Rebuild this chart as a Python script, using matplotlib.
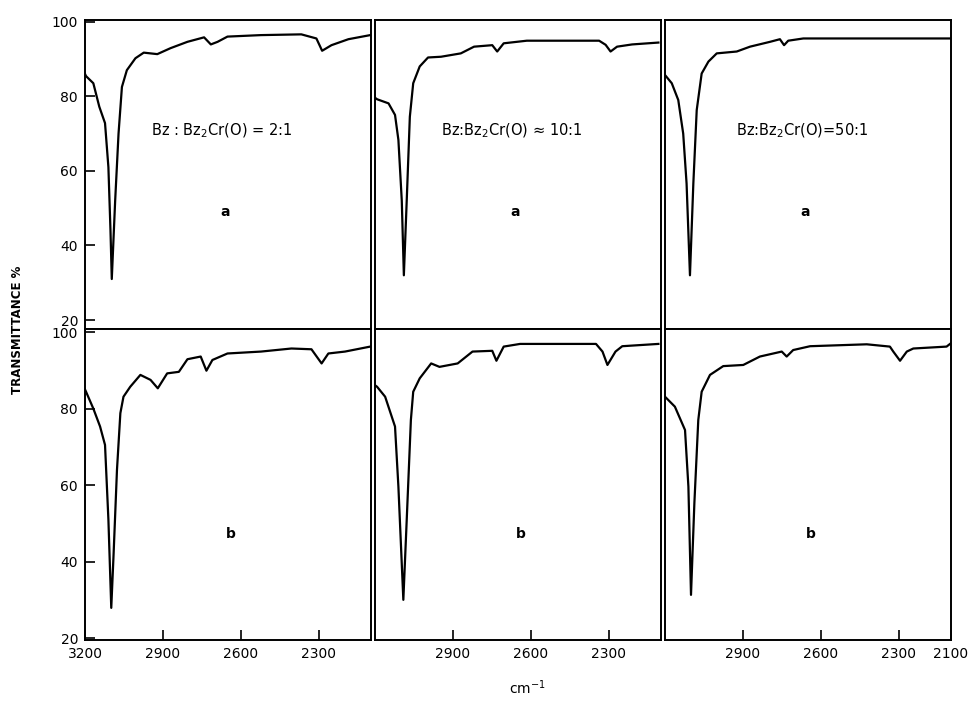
import matplotlib.pyplot as plt

# wavenumber (cm-1) and transmittance (%)
wn_a1 = [3200, 3196, 3168, 3145, 3123, 3110, 3102, 3097, 3084, 3071, 3058, 3039, 3006, 2974,
         2922, 2871, 2806, 2742, 2716, 2690, 2652, 2523, 2368, 2310, 2288, 2252, 2187, 2103]
t_a1 = [86, 85.4, 83.5, 77.2, 72.8, 61, 44, 31, 52, 70, 82.5, 87, 90.2, 91.7,
        91.3, 92.9, 94.6, 95.8, 93.9, 94.6, 96, 96.4, 96.6, 95.5, 92.2, 93.7, 95.3, 96.4]

wn_a2 = [3198, 3192, 3148, 3123, 3110, 3097, 3089, 3078, 3066, 3053, 3028, 2996, 2946,
         2870, 2819, 2749, 2730, 2705, 2616, 2338, 2313, 2294, 2269, 2211, 2110]
t_a2 = [79.5, 79.2, 78.1, 75, 68.3, 52, 32, 52, 74.5, 83.5, 88, 90.4, 90.6,
        91.5, 93.3, 93.7, 92, 94.2, 94.9, 94.9, 93.8, 92, 93.3, 93.9, 94.4]

wn_a3 = [3200, 3174, 3149, 3130, 3117, 3104, 3091, 3078, 3059, 3033, 3001, 2924, 2873,
         2796, 2758, 2742, 2726, 2668, 2100]
t_a3 = [85.7, 83.5, 79, 70, 56.6, 32, 56.6, 76.3, 86.1, 89.3, 91.5, 92, 93.3,
        94.6, 95.3, 93.7, 94.9, 95.5, 95.5]

wn_b1 = [3200, 3196, 3168, 3142, 3123, 3110, 3099, 3090, 3077, 3064, 3052, 3026, 2987, 2948,
         2920, 2884, 2839, 2806, 2755, 2733, 2710, 2652, 2523, 2406, 2329, 2290, 2264, 2200, 2103]
t_b1 = [85, 84.4, 80, 75.3, 70.5, 51, 27.9, 42, 64, 78.8, 83.1, 85.7, 88.8, 87.5,
        85.3, 89.2, 89.6, 92.9, 93.6, 89.9, 92.7, 94.4, 94.9, 95.7, 95.5, 91.8, 94.4, 94.9, 96.2]

wn_b2 = [3198, 3192, 3161, 3123, 3110, 3091, 3078, 3062, 3053, 3028, 2984, 2952, 2882,
         2825, 2749, 2733, 2705, 2642, 2350, 2325, 2306, 2275, 2249, 2110]
t_b2 = [86, 85.7, 83.1, 75.3, 59.6, 30, 50.9, 77, 84.4, 87.9, 91.8, 90.9, 91.8,
        94.9, 95.1, 92.5, 96.2, 96.9, 96.9, 94.9, 91.4, 94.9, 96.3, 96.9]

wn_b3 = [3200, 3162, 3123, 3110, 3100, 3087, 3072, 3059, 3027, 2976, 2899, 2835, 2751,
         2732, 2707, 2642, 2424, 2335, 2322, 2296, 2270, 2245, 2117, 2100]
t_b3 = [83.1, 80.5, 74.4, 59.6, 31.3, 55.3, 77, 84.4, 88.8, 91.1, 91.4, 93.6, 94.9,
        93.6, 95.3, 96.3, 96.8, 96.2, 94.9, 92.5, 94.9, 95.7, 96.2, 97.1]

ratios = ['Bz : Bz$_2$Cr(O) = 2:1', 'Bz:Bz$_2$Cr(O) \u2248 10:1', 'Bz:Bz$_2$Cr(O)=50:1']
yticks = [20, 40, 60, 80, 100]
xticks_cols = [[3200, 2900, 2600, 2300], [2900, 2600, 2300], [2900, 2600, 2300, 2100]]

W, H = 979, 714
fig = plt.figure(figsize=(W / 100, H / 100), dpi=100)

spectra = [[(wn_a1, t_a1), (wn_a2, t_a2), (wn_a3, t_a3)],
           [(wn_b1, t_b1), (wn_b2, t_b2), (wn_b3, t_b3)]]
rows = [(20, 329, (17.6, 100.45)), (329, 640, (19.5, 100.8))]
col_left = [85, 375, 665]
col_w = 286

for r, (top, bot, ylim) in enumerate(rows):
    for c in range(3):
        ax = fig.add_axes([col_left[c] / W, 1 - bot / H, col_w / W, (bot - top) / H])
        wn, t = spectra[r][c]
        ax.plot(wn, t, color='black', lw=1.6, solid_joinstyle='round')
        ax.set_xlim(3200, 2100)
        ax.set_ylim(*ylim)
        for s in ax.spines.values():
            s.set_linewidth(1.4)
        ax.tick_params(direction='in', length=7, width=1.2, labelsize=10, pad=5)
        if c == 0:
            ax.set_yticks(yticks)
        else:
            ax.set_yticks([])
        if r == 0:
            ax.set_xticks([])
            ax.text(0.48, 0.64, ratios[c], transform=ax.transAxes, ha='center',
                    va='center', fontsize=10.5)
            ax.text(0.49, 0.38, 'a', transform=ax.transAxes, ha='center',
                    va='center', fontsize=10, fontweight='bold')
        else:
            ax.set_xticks(xticks_cols[c])
            ax.text(0.51, 0.34, 'b', transform=ax.transAxes, ha='center',
                    va='center', fontsize=10, fontweight='bold')

fig.text(18 / W, 1 - 330 / H, 'TRANSMITTANCE %', rotation=90, ha='center',
         va='center', fontsize=8.5, fontweight='bold')
fig.text(527 / W, 1 - 688 / H, 'cm$^{-1}$', ha='center', va='center', fontsize=10)

fig.savefig('out.png', dpi=100)
